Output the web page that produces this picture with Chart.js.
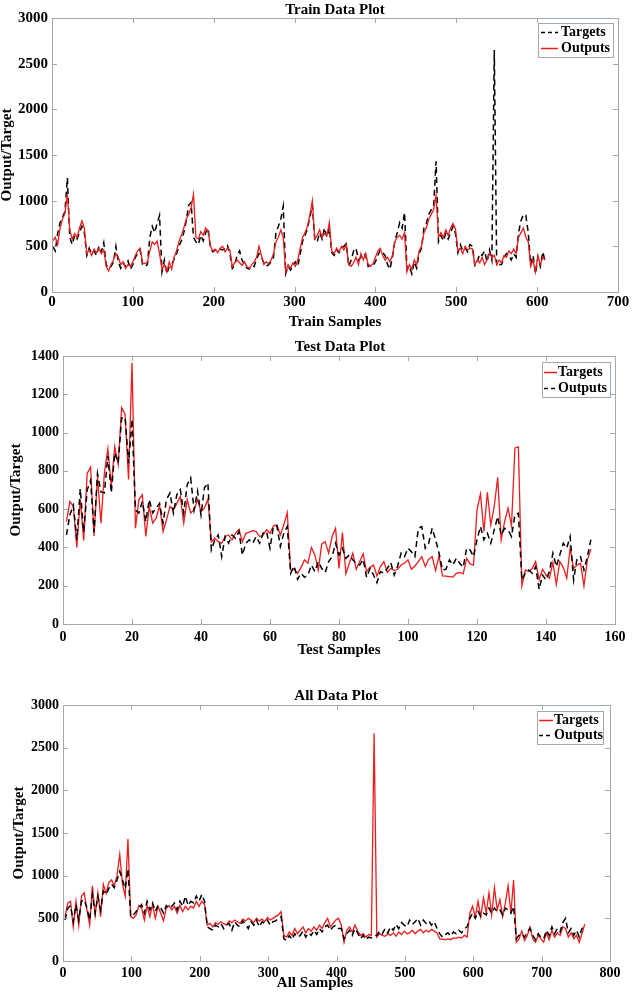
<!DOCTYPE html>
<html>
<head>
<meta charset="utf-8">
<script src="https://cdn.jsdelivr.net/npm/chart.js@4.4.0/dist/chart.umd.min.js"></script>
<style>
html,body{margin:0;padding:0;background:#fff;width:633px;height:992px;overflow:hidden}
canvas{position:absolute;left:0;top:0;pointer-events:none}
</style>
</head>
<body>
<canvas id="c1" width="633" height="992"></canvas>
<canvas id="c2" width="633" height="992"></canvas>
<canvas id="c3" width="633" height="992"></canvas>
<script>
// ---------- DATA ----------
// Train: samples 1,4,7,...,610 (every 3rd sample)
const TRAIN_START = 1, TRAIN_STEP = 3;
const trainTargets = [
500,450,640,760,820,880,1250,600,520,620,
580,650,720,650,400,480,420,450,400,500,
440,540,300,260,280,330,500,330,260,320,
280,340,250,300,380,420,460,300,280,300,
600,720,650,750,840,220,350,200,280,300,
360,420,500,560,650,780,950,980,600,550,
520,620,560,650,700,480,440,460,450,470,
460,480,510,420,260,300,400,450,350,300,
260,250,290,280,360,420,380,320,280,300,
330,380,650,720,800,940,200,280,240,290,
330,280,420,560,620,700,820,950,560,550,
650,580,700,600,700,430,400,460,430,480,
500,530,280,350,450,480,350,380,420,400,
280,300,290,330,400,460,430,400,300,250,
380,560,650,760,700,870,250,280,200,330,
260,420,480,700,750,850,900,950,1430,550,
620,560,640,580,650,720,640,430,520,450,
480,440,520,500,290,330,420,400,450,330,
460,350,2650,280,300,300,380,420,400,350,
420,380,650,780,850,840,650,300,400,200,
380,280,440,330];
const trainOutputs = [
560,600,520,700,800,860,1070,680,580,640,
600,700,780,700,420,460,400,470,430,480,
420,460,280,230,300,350,420,380,300,330,
260,300,280,330,400,450,480,320,310,330,
450,550,520,560,420,250,300,220,330,250,
380,450,550,620,700,800,850,920,1070,600,
580,660,620,700,660,500,450,470,430,480,
500,440,480,460,280,320,350,320,290,330,
280,260,300,330,380,500,400,300,330,310,
350,420,550,600,680,600,220,300,260,320,
280,350,480,600,650,720,850,1000,580,620,
680,600,640,620,760,450,420,480,440,500,
460,520,300,280,320,380,300,420,350,420,
300,280,310,380,450,480,400,350,380,330,
400,550,600,620,580,650,220,300,250,350,
300,450,500,650,700,800,850,900,1060,600,
650,600,680,620,700,750,690,450,480,420,
500,460,480,470,300,350,320,380,300,350,
420,380,400,300,350,320,400,380,450,420,
470,420,600,650,700,600,550,280,350,220,
400,300,380,350];

// Test: samples 1..153
const TEST_START = 1, TEST_STEP = 1;
const testTargets = [
535,640,614,400,650,436,786,820,460,772,
527,790,915,720,926,833,1130,1095,755,1365,
500,650,675,457,614,527,553,620,483,544,
614,596,630,666,527,650,580,596,650,588,
605,652,430,448,430,422,457,465,440,474,
495,430,474,480,488,483,457,465,492,474,
513,518,465,518,582,282,286,265,296,335,
317,400,361,282,418,430,370,457,500,290,
478,262,317,370,286,326,366,274,296,308,
251,300,326,269,290,279,286,308,317,335,
286,303,326,352,300,338,352,279,356,251,
250,248,245,265,269,262,343,314,308,596,
679,483,688,518,614,766,440,535,605,513,
920,925,199,282,274,290,326,230,286,256,
239,321,207,326,296,239,396,290,308,317,
199,335,391];
const testOutputs = [
465,570,620,440,706,480,700,750,480,786,
690,685,877,685,895,842,1077,1080,840,1070,
595,580,640,535,650,580,605,630,527,650,
684,580,676,702,580,728,763,596,694,570,
711,737,387,440,465,352,457,422,465,448,
483,360,422,440,422,457,422,474,483,396,
509,513,405,474,509,265,303,234,265,244,
256,308,274,326,290,269,326,352,422,361,
396,343,361,335,317,308,338,244,290,256,
216,274,265,290,321,256,303,370,352,396,
378,352,500,509,396,422,500,440,370,282,
286,335,308,343,317,296,396,387,352,440,
509,440,474,422,492,561,465,500,492,457,
570,579,230,265,282,265,300,181,256,230,
274,370,300,361,422,396,457,230,343,352,
282,352,440];

// All: samples 3,7,11,...,763 (every 4th sample)
const ALL_START = 3, ALL_STEP = 4;
const allTargets = [
520,680,700,400,700,420,760,800,600,420,880,540,800,520,900,790,920,950,880,1000,1250,900,760,1430,520,
500,540,650,620,480,650,520,660,500,640,560,470,620,650,600,640,560,650,580,640,600,640,620,700,640,700,660,
420,440,400,450,430,460,440,420,470,450,480,460,440,490,470,500,480,450,500,470,490,460,510,480,500,520,540,580,
300,280,340,300,380,320,360,400,330,380,350,400,360,420,380,450,500,400,440,480,500,420,220,360,400,340,420,350,300,320,280,310,300,
2670,
280,320,300,290,320,300,330,290,340,310,350,320,330,360,320,350,370,330,360,340,370,350,330,
260,255,250,260,250,270,265,280,270,300,280,
560,640,520,700,520,740,560,800,540,860,600,720,520,680,880,560,950,
220,260,350,240,300,400,260,220,300,260,220,330,250,360,280,330,300,400,380,280,330,260,300,220,320,430];
const allOutputs = [
480,620,650,460,660,480,700,720,620,480,780,560,760,600,820,780,850,900,860,950,1050,950,850,1080,520,
540,580,620,660,560,700,600,680,580,650,620,560,650,620,640,680,600,700,640,760,650,700,680,760,700,780,700,
400,380,360,420,400,440,380,420,440,360,460,420,400,470,430,380,460,420,480,400,460,440,480,420,460,470,500,520,
260,240,300,250,320,280,300,350,280,330,300,360,310,380,340,400,420,360,400,420,380,380,260,320,360,300,380,330,260,300,250,280,270,
300,
300,350,320,380,330,400,360,430,380,450,420,400,480,430,460,500,420,480,440,470,420,460,380,
320,280,310,330,290,340,320,360,330,380,400,
500,560,500,580,520,560,540,620,560,620,580,600,540,620,600,560,640,
260,300,320,280,340,380,300,250,320,280,260,360,300,400,320,380,340,450,500,330,380,300,360,280,380,420];

// Tick labels
const trainXTicks = [0,100,200,300,400,500,600,700];
const trainYTicks = [0,500,1000,1500,2000,2500,3000];
const testXTicks = [0,20,40,60,80,100,120,140,160];
const testYTicks = [0,200,400,600,800,1000,1200,1400];
const allXTicks = [0,100,200,300,400,500,600,700,800];
const allYTicks = [0,500,1000,1500,2000,2500,3000];

// ---------- RENDERING ----------
const RED = '#ee1c1c', BLACK = '#000000', FRAME = '#9ea9b0';
const SERIF = '"Liberation Serif", "Times New Roman", serif';

function toXY(vals, start, step) {
  return vals.map((v, i) => ({x: start + i * step, y: v}));
}

function makeDecor(cfg) {
  return {
    id: 'decor',
    afterDatasetsDraw(chart) {
      const {ctx, chartArea: a, scales: {x, y}} = chart;
      ctx.save();
      ctx.setLineDash([]);
      ctx.strokeStyle = FRAME;
      ctx.lineWidth = 1;
      ctx.strokeRect(Math.round(a.left) + 0.5, Math.round(a.top) + 0.5,
                     Math.round(a.right - a.left), Math.round(a.bottom - a.top));
      ctx.beginPath();
      x.ticks.forEach(t => {
        const p = Math.round(x.getPixelForValue(t.value)) + 0.5;
        ctx.moveTo(p, a.bottom); ctx.lineTo(p, a.bottom - 5);
        ctx.moveTo(p, a.top); ctx.lineTo(p, a.top + 5);
      });
      y.ticks.forEach(t => {
        const p = Math.round(y.getPixelForValue(t.value)) + 0.5;
        ctx.moveTo(a.left, p); ctx.lineTo(a.left + 5, p);
        ctx.moveTo(a.right, p); ctx.lineTo(a.right - 5, p);
      });
      ctx.stroke();

      // title
      ctx.fillStyle = '#000';
      ctx.font = 'bold 15px ' + SERIF;
      ctx.textAlign = 'center';
      ctx.textBaseline = 'middle';
      ctx.fillText(cfg.title, cfg.titleX, cfg.titleY);
      if (cfg.xLabel) ctx.fillText(cfg.xLabel.text, cfg.xLabel.x, cfg.xLabel.y);

      // legend
      const L = cfg.legend;
      ctx.fillStyle = '#fff';
      ctx.fillRect(L.x1, L.y1, L.x2 - L.x1, L.y2 - L.y1);
      ctx.strokeStyle = FRAME;
      ctx.strokeRect(L.x1 + 0.5, L.y1 + 0.5, L.x2 - L.x1, L.y2 - L.y1);
      ctx.font = 'bold 14px ' + SERIF;
      ctx.textAlign = 'left';
      L.items.forEach((it, i) => {
        const yy = L.rows[i];
        ctx.strokeStyle = it.color;
        ctx.lineWidth = it.width;
        ctx.setLineDash(it.dash);
        ctx.beginPath();
        ctx.moveTo(L.sx1, yy + 0.5); ctx.lineTo(L.sx2, yy + 0.5);
        ctx.stroke();
        ctx.setLineDash([]);
        ctx.fillStyle = '#000';
        ctx.fillText(it.label, L.tx, yy);
      });
      ctx.restore();
    }
  };
}

function makeChart(id, g) {
  const canvas = document.getElementById(id);
  const tickFont = {family: SERIF, size: g.tickSize, weight: 'bold'};
  const titleFont = {family: SERIF, size: 15, weight: 'bold'};
  const plain = v => String(v);
  return new Chart(canvas, {
    type: 'line',
    data: {datasets: g.datasets},
    options: {
      responsive: false,
      animation: false,
      events: [],
      layout: {padding: {top: g.top, left: 0, right: 633 - g.right, bottom: 992 - g.bottom - g.xh}},
      plugins: {legend: {display: false}, tooltip: {enabled: false}, title: {display: false}},
      elements: {point: {radius: 0}, line: {tension: 0}},
      scales: {
        x: {
          type: 'linear', min: g.xTicks[0], max: g.xTicks[g.xTicks.length - 1],
          afterFit: s => { s.height = g.xh; },
          afterBuildTicks: s => { s.ticks = g.xTicks.map(v => ({value: v})); },
          ticks: {font: tickFont, color: '#000', padding: g.xPad, maxRotation: 0, autoSkip: false, callback: plain},
          grid: {display: false, drawTicks: false},
          border: {display: false},
          title: {display: !!g.xTitle, text: g.xTitle || '', font: titleFont, color: '#000', padding: {top: 0, bottom: 0}}
        },
        y: {
          type: 'linear', min: g.yTicks[0], max: g.yTicks[g.yTicks.length - 1],
          afterFit: s => { s.width = g.left; },
          afterBuildTicks: s => { s.ticks = g.yTicks.map(v => ({value: v})); },
          ticks: {font: tickFont, color: '#000', padding: 4, callback: plain},
          grid: {display: false, drawTicks: false},
          border: {display: false},
          title: {display: true, text: 'Output/Target', font: {family: SERIF, size: 15, weight: 'bold', lineHeight: g.yTitleLH}, color: '#000', padding: {top: g.yTitlePad, bottom: 0}}
        }
      }
    },
    plugins: [makeDecor(g.decor)]
  });
}

const dashedStyle = {borderColor: BLACK, borderWidth: 1.5, borderDash: [6, 4], pointRadius: 0, fill: false};
const solidStyle = {borderColor: RED, borderWidth: 1.3, pointRadius: 0, fill: false};

// Chart 1: Train
makeChart('c1', {
  top: 18, left: 52, right: 618, bottom: 292, xh: 39, xPad: 1.5, tickSize: 15,
  yTitleLH: 1.0, yTitlePad: 0,
  xTicks: trainXTicks, yTicks: trainYTicks, xTitle: 'Train Samples',
  datasets: [
    Object.assign({label: 'Outputs', data: toXY(trainOutputs, TRAIN_START, TRAIN_STEP)}, solidStyle),
    Object.assign({label: 'Targets', data: toXY(trainTargets, TRAIN_START, TRAIN_STEP)}, dashedStyle)
  ],
  decor: {
    title: 'Train Data Plot', titleX: 335, titleY: 10,
    legend: {x1: 538, y1: 23, x2: 613, y2: 57, rows: [32, 48], sx1: 541, sx2: 558, tx: 561,
      items: [{label: 'Targets', color: BLACK, width: 1.5, dash: [4, 3]},
              {label: 'Outputs', color: RED, width: 1.5, dash: []}]}
  }
});

// Chart 2: Test
makeChart('c2', {
  top: 356, left: 63, right: 615, bottom: 624, xh: 35, xPad: 4.5, tickSize: 14,
  yTitleLH: 1.2, yTitlePad: 7,
  xTicks: testXTicks, yTicks: testYTicks, xTitle: 'Test Samples',
  datasets: [
    Object.assign({label: 'Outputs', data: toXY(testOutputs, TEST_START, TEST_STEP)}, dashedStyle),
    Object.assign({label: 'Targets', data: toXY(testTargets, TEST_START, TEST_STEP)}, solidStyle)
  ],
  decor: {
    title: 'Test Data Plot', titleX: 340, titleY: 347,
    legend: {x1: 542, y1: 362, x2: 610, y2: 397, rows: [372, 388], sx1: 544, sx2: 557, tx: 558,
      items: [{label: 'Targets', color: RED, width: 1.5, dash: []},
              {label: 'Outputs', color: BLACK, width: 1.5, dash: [4, 3]}]}
  }
});

// Chart 3: All (its x label sits left of centre in the original)
makeChart('c3', {
  top: 705, left: 63, right: 610, bottom: 961, xh: 31, xPad: 3.5, tickSize: 14,
  yTitleLH: 1.2, yTitlePad: 10,
  xTicks: allXTicks, yTicks: allYTicks, xTitle: null,
  datasets: [
    Object.assign({label: 'Outputs', data: toXY(allOutputs, ALL_START, ALL_STEP)}, dashedStyle),
    Object.assign({label: 'Targets', data: toXY(allTargets, ALL_START, ALL_STEP)}, solidStyle)
  ],
  decor: {
    title: 'All Data Plot', titleX: 336, titleY: 696,
    xLabel: {text: 'All Samples', x: 315, y: 983},
    legend: {x1: 537, y1: 711, x2: 603, y2: 744, rows: [720, 735], sx1: 539, sx2: 553, tx: 554,
      items: [{label: 'Targets', color: RED, width: 1.5, dash: []},
              {label: 'Outputs', color: BLACK, width: 1.5, dash: [4, 3]}]}
  }
});
</script>
</body>
</html>
